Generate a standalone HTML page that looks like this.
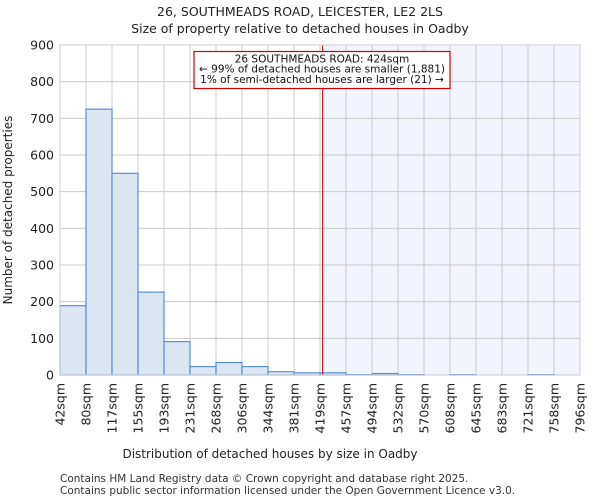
<!DOCTYPE html>
<html><head><meta charset="utf-8"><style>
body{margin:0;background:#fff;font-family:"DejaVu Sans","Liberation Sans",sans-serif;}
</style></head><body>
<svg width="600" height="500" viewBox="0 0 600 500" xmlns="http://www.w3.org/2000/svg" font-family="DejaVu Sans, Liberation Sans, sans-serif">
<text x="300" y="16" text-anchor="middle" font-size="12.5" fill="#222">26, SOUTHMEADS ROAD, LEICESTER, LE2 2LS</text>
<text x="300" y="33" text-anchor="middle" font-size="12.5" fill="#222">Size of property relative to detached houses in Oadby</text>
<g id="plot"></g>
<text x="270" y="458" text-anchor="middle" font-size="12" fill="#222">Distribution of detached houses by size in Oadby</text>
<text transform="translate(12,210) rotate(-90)" text-anchor="middle" font-size="12" fill="#222">Number of detached properties</text>
<text x="60" y="482" font-size="10.5" fill="#333">Contains HM Land Registry data © Crown copyright and database right 2025.</text>
<text x="60" y="494" font-size="10.5" fill="#333">Contains public sector information licensed under the Open Government Licence v3.0.</text>
</svg>
<script>
const categories=["42sqm","80sqm","117sqm","155sqm","193sqm","231sqm","268sqm","306sqm","344sqm","381sqm","419sqm","457sqm","494sqm","532sqm","570sqm","608sqm","645sqm","683sqm","721sqm","758sqm","796sqm"];
const counts=[189,725,550,226,91,23,34,23,9,6,6,1,4,1,0,1,0,0,1,0];
const yTicks=[0,100,200,300,400,500,600,700,800,900];
const propertyBin=10.1;
const NS="http://www.w3.org/2000/svg";
const L=60,R=580,T=45,B=375,yMax=900;
const bw=(R-L)/counts.length;
const xs=i=>L+i*bw;
const ys=v=>B-v/yMax*(B-T);
const g=document.getElementById('plot');
function mk(t,a){const e=document.createElementNS(NS,t);for(const k in a)e.setAttribute(k,a[k]);g.appendChild(e);return e;}
const hx=xs(propertyBin);
let e=mk('rect',{x:hx,y:T,width:R-hx,height:B-T,fill:'#f2f5fd'});


yTicks.forEach(v=>{let l=mk('line',{x1:L,x2:R,y1:ys(v),y2:ys(v),stroke:'#ccc','stroke-width':1});


let t=mk('text',{x:L-6,y:ys(v)+4.5,'text-anchor':'end','font-size':12.5,fill:'#222'});t.textContent=v;

});
for(let i=0;i<=counts.length;i++){let l=mk('line',{x1:xs(i),x2:xs(i),y1:T,y2:B,stroke:'#ccc','stroke-width':1});

}
counts.forEach((v,i)=>{if(v<=0)return;let r=mk('rect',{x:xs(i),y:ys(v),width:bw,height:B-ys(v),fill:'#dce6f3',stroke:'#5a8fd5','stroke-width':1.2});

});
categories.forEach((c,i)=>{let t=mk('text',{transform:`translate(${xs(i)+4.5},${B+8}) rotate(-90)`,'text-anchor':'end','font-size':12.5,fill:'#222'});t.textContent=c;

});
let ln=mk('line',{x1:hx,x2:hx,y1:T,y2:B,stroke:'#c00','stroke-width':1});


let bx=mk('rect',{x:194,y:51.5,width:256,height:37,fill:'#fff',stroke:'#c00','stroke-width':1.2});


["26 SOUTHMEADS ROAD: 424sqm","← 99% of detached houses are smaller (1,881)","1% of semi-detached houses are larger (21) →"].forEach((s,k)=>{let t=mk('text',{x:322,y:62.5+k*10.2,'text-anchor':'middle','font-size':10.5,fill:'#111'});t.textContent=s;

});
let ax=mk('rect',{x:L,y:T,width:R-L,height:B-T,fill:'none',stroke:'#ccc','stroke-width':1});


</script>
</body></html>
